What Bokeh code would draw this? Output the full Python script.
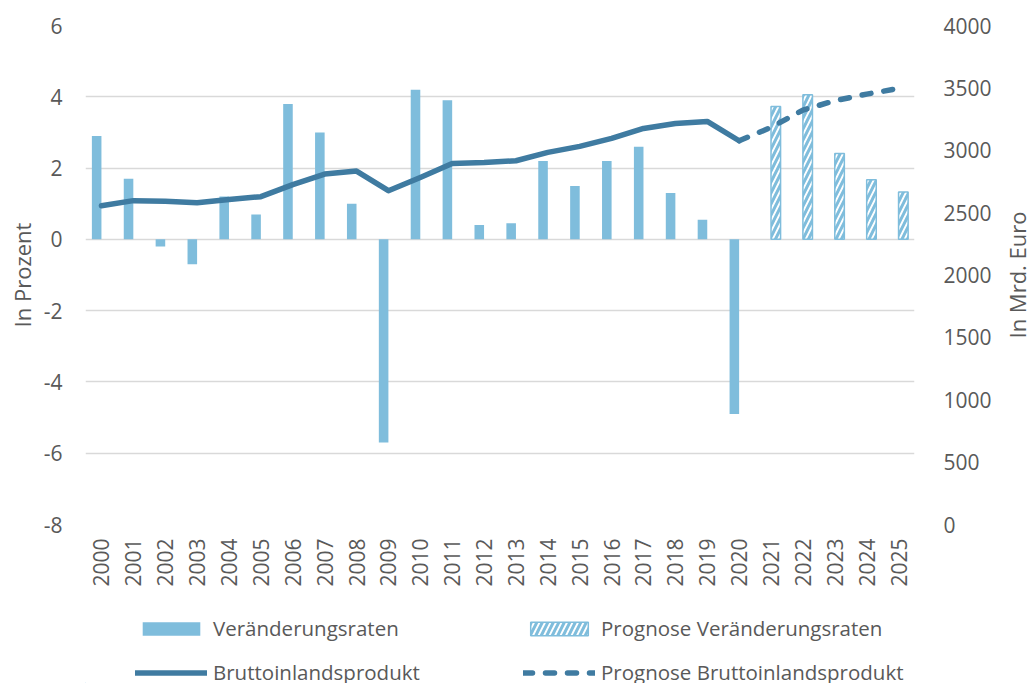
import math
from bokeh.plotting import figure
from bokeh.layouts import column, row
from bokeh.models import (ColumnDataSource, FactorRange, Range1d, LinearAxis,
                          FixedTicker, Legend, LegendItem)
from bokeh.transform import dodge
from bokeh.embed import file_html
from bokeh.resources import INLINE

# ---- data ----
years = ["2000", "2001", "2002", "2003", "2004", "2005", "2006", "2007", "2008",
         "2009", "2010", "2011", "2012", "2013", "2014", "2015", "2016", "2017",
         "2018", "2019", "2020", "2021", "2022", "2023", "2024", "2025"]

rate_years = years[:21]
rates = [2.9, 1.7, -0.2, -0.7, 1.2, 0.7, 3.8, 3.0, 1.0, -5.7, 4.2, 3.9, 0.4,
         0.45, 2.2, 1.5, 2.2, 2.6, 1.3, 0.55, -4.9]

fc_rate_years = years[21:]
fc_rates = [3.73, 4.06, 2.41, 1.67, 1.33]

gdp_years = years[:21]
gdp = [2555, 2596, 2592, 2580, 2606, 2628, 2724, 2809, 2833, 2676, 2782, 2894,
       2902, 2916, 2983, 3031, 3095, 3175, 3215, 3231, 3076]

fc_gdp_years = years[20:]
fc_gdp = [3076, 3183, 3322, 3397, 3450, 3495]

left_ticks = [-8, -6, -4, -2, 0, 2, 4, 6]
right_ticks = [0, 500, 1000, 1500, 2000, 2500, 3000, 3500, 4000]

legend_labels = ["Veränderungsraten", "Prognose Veränderungsraten",
                 "Bruttoinlandsprodukt", "Prognose Bruttoinlandsprodukt"]
left_title = "In Prozent"
right_title = "In Mrd. Euro"

# ---- style ----
BAR = "#7FBDDC"
LINE = "#3F7BA1"
TXT = "#595959"
GRID = "#D9D9D9"
FONT = "Open Sans"

bar_style = dict(fill_color=BAR, line_color=None)
fbar_style = dict(fill_color="white", line_color=BAR, line_width=1.5,
                  hatch_pattern="/", hatch_color=BAR, hatch_scale=11,
                  hatch_weight=3)
line_style = dict(line_color=LINE, line_width=5.5, line_join="round",
                  line_cap="round")
fline_style = dict(line_color=LINE, line_width=5.5, line_join="round",
                   line_cap="round", line_dash="9 13")


def style_axis(ax):
    ax.axis_line_color = None
    ax.major_tick_line_color = None
    ax.minor_tick_line_color = None
    ax.major_tick_out = 0
    ax.major_tick_in = 0
    ax.minor_tick_out = 0
    ax.minor_tick_in = 0
    ax.major_label_text_font = FONT
    ax.major_label_text_font_size = "21px"
    ax.major_label_text_color = TXT
    ax.axis_label_text_font = FONT
    ax.axis_label_text_font_size = "22px"
    ax.axis_label_text_font_style = "normal"
    ax.axis_label_text_color = TXT


p = figure(x_range=FactorRange(*years), y_range=Range1d(-8, 6),
           width=998, height=590, output_backend="svg", toolbar_location=None,
           min_border_left=85, min_border_right=84, min_border_top=25,
           min_border_bottom=66)
p.outline_line_color = None
p.xgrid.visible = False

p.extra_y_ranges = {"gdp": Range1d(0, 4000)}

src_a = ColumnDataSource(dict(year=rate_years, rate=rates))
src_f = ColumnDataSource(dict(year=fc_rate_years, rate=fc_rates))
src_g = ColumnDataSource(dict(year=gdp_years, gdp=gdp))
src_gf = ColumnDataSource(dict(year=fc_gdp_years, gdp=fc_gdp))

p.vbar(x=dodge("year", -0.15, range=p.x_range), top="rate", bottom=0,
       width=0.3, source=src_a, **bar_style)
p.vbar(x=dodge("year", 0.15, range=p.x_range), top="rate", bottom=0,
       width=0.3, source=src_f, **fbar_style)
p.line(x="year", y="gdp", source=src_g, y_range_name="gdp", **line_style)
p.line(x="year", y="gdp", source=src_gf, y_range_name="gdp", **fline_style)

# left axis
p.yaxis.ticker = FixedTicker(ticks=left_ticks)
p.yaxis.major_label_overrides = {t: str(t) for t in left_ticks}
p.yaxis.axis_label = left_title
p.ygrid.grid_line_color = GRID
p.ygrid.grid_line_width = 1.3

ax2 = LinearAxis(y_range_name="gdp", ticker=FixedTicker(ticks=right_ticks))
p.add_layout(ax2, "right")

for ax in [p.yaxis[0], ax2, p.xaxis[0]]:
    style_axis(ax)

p.yaxis[0].major_label_standoff = 23
p.yaxis[0].axis_label_standoff = 4
ax2.major_label_standoff = 29
p.xaxis.major_label_orientation = math.pi / 2
p.xaxis.major_label_standoff = 14

# ---- right-hand axis title (narrow strip, reads bottom-to-top) ----
tf = figure(width=33, height=590, output_backend="svg", toolbar_location=None,
            x_range=Range1d(0, 1), y_range=Range1d(0, 1),
            min_border_left=31, min_border_right=0, min_border_top=25,
            min_border_bottom=66)
tf.xaxis.visible = False
tf.grid.visible = False
tf.outline_line_color = None
tf.yaxis.ticker = FixedTicker(ticks=[])
style_axis(tf.yaxis[0])
tf.yaxis.major_label_standoff = 0
tf.yaxis.axis_label = right_title
tf.yaxis.axis_label_standoff = 0

# ---- legend (separate strip below the chart; proxies lie outside its ranges) ----
lg = figure(width=998, height=93, output_backend="svg", toolbar_location=None,
            x_range=Range1d(0, 1), y_range=Range1d(0, 1),
            min_border_left=0, min_border_right=0, min_border_top=0,
            min_border_bottom=0)
lg.axis.visible = False
lg.grid.visible = False
lg.outline_line_color = None

proxy_x = [-5, -4]
proxy_y = [-5, -4]
k1 = lg.vbar(x=proxy_x, top=proxy_y, width=0.1, **bar_style)
k2 = lg.vbar(x=proxy_x, top=proxy_y, width=0.1, **fbar_style)
k3 = lg.line(x=proxy_x, y=proxy_y, **line_style)
k4 = lg.line(x=proxy_x, y=proxy_y, **fline_style)

legend = Legend(items=[LegendItem(label=lab, renderers=[r])
                       for lab, r in zip(legend_labels, [k1, k2, k3, k4])],
                location=(50, -9), orientation="horizontal", ncols=2)
legend.padding = 0
legend.margin = 0
legend.spacing = 4
legend.border_line_color = None
legend.background_fill_alpha = 0
legend.glyph_width = 72
legend.glyph_height = 17
legend.label_width = 306
legend.label_height = 40
legend.label_standoff = 6
legend.label_text_font = FONT
legend.label_text_font_size = "20.5px"
legend.label_text_color = TXT
lg.add_layout(legend, "center")

layout = row(column(p, lg), tf)
open("out.html", "w").write(file_html(layout, INLINE))
